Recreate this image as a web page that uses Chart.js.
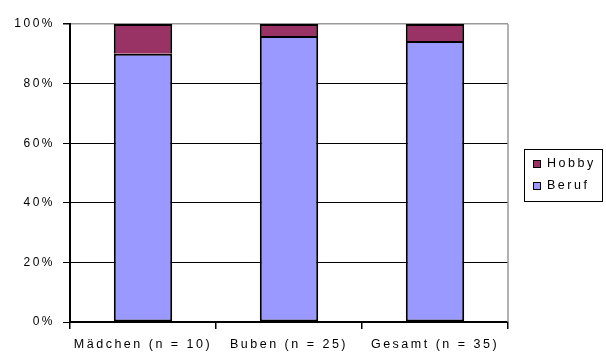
<!DOCTYPE html>
<html lang="de">
<head>
<meta charset="UTF-8">
<title>Beruf / Hobby</title>
<script src="https://cdn.jsdelivr.net/npm/chart.js"></script>
<style>
  html, body { margin: 0; padding: 0; background: #fff; }
  #wrap { position: relative; width: 606px; height: 353px; }
  #legend {
    position: absolute; left: 524px; top: 149px; width: 77px; height: 51px;
    border: 1px solid #000; box-sizing: content-box;
    font: 12.5px "Liberation Sans", Arial, sans-serif; letter-spacing: 2.5px; color: #000;
  }
  #legend .item { position: absolute; left: 8px; height: 14px; line-height: 14px; white-space: nowrap; }
  #legend .box { display: inline-block; width: 6px; height: 6px; border: 1px solid #000; margin-right: 6px; vertical-align: -1px; }
</style>
</head>
<body>
<div id="wrap">
  <canvas id="chart" width="606" height="353"></canvas>
  <div id="legend"></div>
</div>
<script>
// Anteile in Prozent
const labels = ['Mädchen (n = 10)', 'Buben (n = 25)', 'Gesamt (n = 35)'];
const beruf = [90, 96, 94.3];
const hobby = [10, 4, 5.7];
const yTicks = [0, 20, 40, 60, 80, 100];

const colors = { Beruf: '#9999ff', Hobby: '#993366' };
const fontFamily = '"Liberation Sans", Arial, sans-serif';

// Canvas-Text mit Sperrung, rechter Rahmen grau
const extras = {
  id: 'extras',
  beforeDraw(chart) {
    chart.ctx.letterSpacing = '2.5px';
  },
  afterDraw(chart) {
    const { ctx, chartArea: a } = chart;
    ctx.save();
    ctx.strokeStyle = '#999';
    ctx.lineWidth = 1.5;
    ctx.beginPath();
    ctx.moveTo(a.right, a.top);
    ctx.lineTo(a.right, a.bottom);
    ctx.stroke();
    ctx.restore();
  }
};

const chart = new Chart(document.getElementById('chart'), {
  type: 'bar',
  data: {
    labels: labels,
    datasets: [
      { label: 'Beruf', data: beruf, backgroundColor: colors.Beruf, borderColor: '#000', borderWidth: 2, borderSkipped: false },
      { label: 'Hobby', data: hobby, backgroundColor: colors.Hobby, borderColor: '#000', borderWidth: 2, borderSkipped: 'bottom' }
    ]
  },
  options: {
    responsive: false,
    animation: false,
    devicePixelRatio: 1,
    layout: { padding: { left: 0, top: 24, right: 98, bottom: 0 } },
    plugins: { legend: { display: false }, tooltip: { enabled: false } },
    datasets: { bar: { categoryPercentage: 1, barPercentage: 0.4 } },
    scales: {
      x: {
        stacked: true,
        afterFit(s) { s.height = 31; },
        grid: { offset: true, drawOnChartArea: false, color: '#000', lineWidth: 1.5, tickLength: 7 },
        border: { color: '#000', width: 2 },
        ticks: { color: '#000', font: { family: fontFamily, size: 12.5 }, padding: 8, maxRotation: 0 }
      },
      y: {
        stacked: true,
        min: 0,
        max: 100,
        afterFit(s) { s.width = 70; },
        afterBuildTicks(s) { s.ticks = yTicks.map(v => ({ value: v })); },
        grid: {
          color: c => (c.tick && c.tick.value === 100 ? '#999' : '#000'),
          lineWidth: c => (c.tick && c.tick.value === 100 ? 1.5 : 1),
          tickColor: '#000',
          tickLength: 7
        },
        border: { color: '#000', width: 2 },
        ticks: { color: '#000', font: { family: fontFamily, size: 12 }, padding: 8, callback: v => v + '%' }
      }
    }
  },
  plugins: [extras]
});

// Legende: Hobby oben, Beruf unten
const legend = document.getElementById('legend');
chart.data.datasets.slice().reverse().forEach((ds, i) => {
  const item = document.createElement('div');
  item.className = 'item';
  item.style.top = (6 + i * 22) + 'px';
  item.innerHTML = '<span class="box" style="background:' + ds.backgroundColor + '"></span>' + ds.label;
  legend.appendChild(item);
});
</script>
</body>
</html>
